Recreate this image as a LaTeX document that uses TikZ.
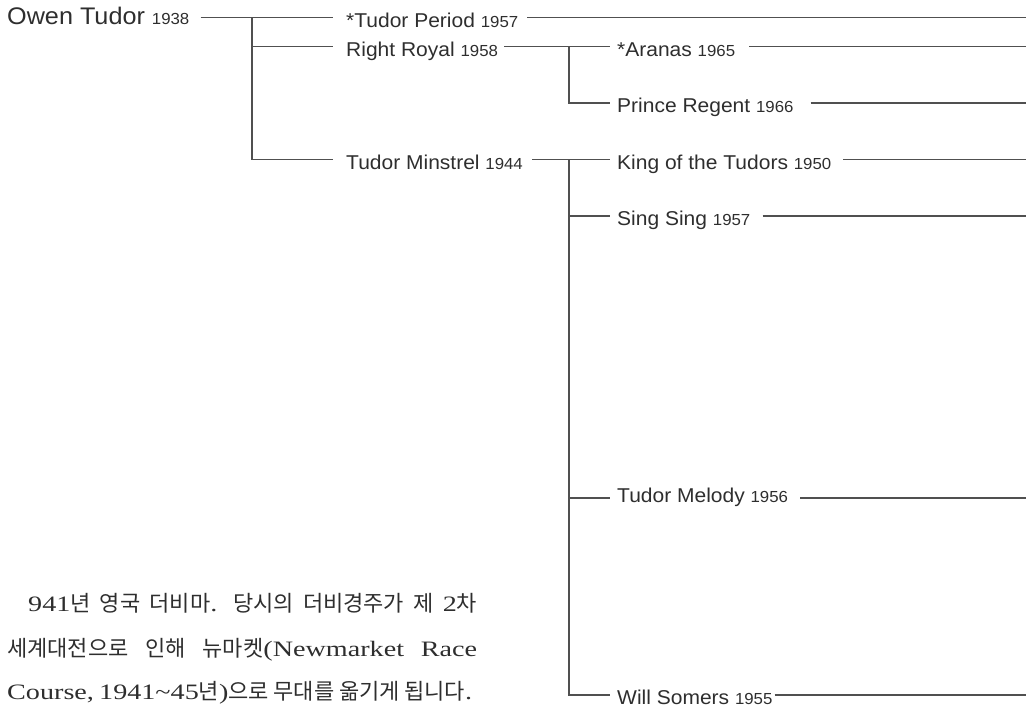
\documentclass[tikz,border=0pt]{standalone}
\usepackage{fontspec}
\setmainfont[FakeStretch=1.28]{Liberation Serif}
\newfontfamily\labfont[FakeStretch=1.05]{Liberation Sans}
\newfontfamily\kr{Noto Sans CJK KR}
\newcommand\hg[1]{{\kr #1}}
\newcommand\yr[1]{{\fontsize{16}{16}\selectfont #1}}
\definecolor{txt}{HTML}{2E2E2E}
\definecolor{ln}{HTML}{505050}
\begin{document}
\begin{tikzpicture}[x=1pt,y=-1pt,
  horse/.style={inner sep=0pt, anchor=west, text height=19pt, text depth=0pt,
    font=\labfont\fontsize{20}{20}\selectfont, text=txt},
  conn/.style={draw=ln, line width=1.1pt},
  para/.style={inner sep=0pt, anchor=base west, text=txt, font=\fontsize{22}{22}\selectfont}]
\useasboundingbox (0,0) rectangle (1026,710);
\coordinate (R) at (1026,0);
% generation 1
\node[horse, font=\labfont\fontsize{24}{24}\selectfont, text height=13pt] (owen) at (7,17.5) {Owen Tudor \yr{1938}};
% generation 2
\node[horse] (tp) at (346,17.5) {*Tudor Period \yr{1957}};
\node[horse] (rr) at (346,46.5) {Right Royal \yr{1958}};
\node[horse] (tm) at (346,159.5) {Tudor Minstrel \yr{1944}};
% generation 3
\node[horse] (ar) at (617,46.5) {*Aranas \yr{1965}};
\node[horse] (pr) at (617,103) {Prince Regent \yr{1966}};
\node[horse] (kt) at (617,159.5) {King of the Tudors \yr{1950}};
\node[horse] (ss) at (617,216) {Sing Sing \yr{1957}};
\node[horse, text height=8pt] (tml) at (617,498) {Tudor Melody \yr{1956}};
\node[horse] (ws) at (617,695) {Will Somers \yr{1955}};
% junctions
\coordinate (j1) at (252,17.5);
\coordinate (j2) at (569,46.5);
\coordinate (j3) at (569,159.5);
% connectors
\draw[conn, shorten <=11pt, shorten >=13pt] (owen.east) -- (tp.west);
\draw[conn, shorten >=13pt] (j1) |- (rr.west);
\draw[conn, shorten >=13pt] (j1) |- (tm.west);
\draw[conn, shorten <=6pt, shorten >=7pt] (rr.east) -- (ar.west);
\draw[conn, shorten >=7pt] (j2) |- (pr.west);
\draw[conn, shorten <=9pt, shorten >=7pt] (tm.east) -- (kt.west);
\draw[conn, shorten >=7pt] (j3) |- (ss.west);
\draw[conn, shorten >=7pt] (j3) |- (tml.west);
\draw[conn, shorten >=7pt] (j3) |- (ws.west);
% trailing lines
\draw[conn, shorten <=9pt] (tp.east) -- (tp.east -| R);
\draw[conn, shorten <=14pt] (ar.east) -- (ar.east -| R);
\draw[conn, shorten <=17pt] (pr.east) -- (pr.east -| R);
\draw[conn, shorten <=12pt] (kt.east) -- (kt.east -| R);
\draw[conn, shorten <=12pt] (ss.east) -- (ss.east -| R);
\draw[conn, shorten <=12pt] (tml.east) -- (tml.east -| R);
\draw[conn, shorten <=2pt] (ws.east) -- (ws.east -| R);
% paragraph
\node[para] (p1) at (28,611.5) {\makebox[449pt][s]{941\hg{년} \hg{영국} \hg{더비마}. \hg{당시의} \hg{더비경주가} \hg{제} 2\hg{차}}};
\node[para] (p2) at (7,656.5) {\makebox[470pt][s]{\hg{세계대전으로} \hg{인해} \hg{뉴마켓}(Newmarket Race}};
\node[para] (p3) at (7,699) {\makebox[461pt][s]{Course, 1941\textasciitilde 45\hg{년})\hg{으로} \hg{무대를} \hg{옮기게} \hg{됩니다}.}};
\end{tikzpicture}
\end{document}
